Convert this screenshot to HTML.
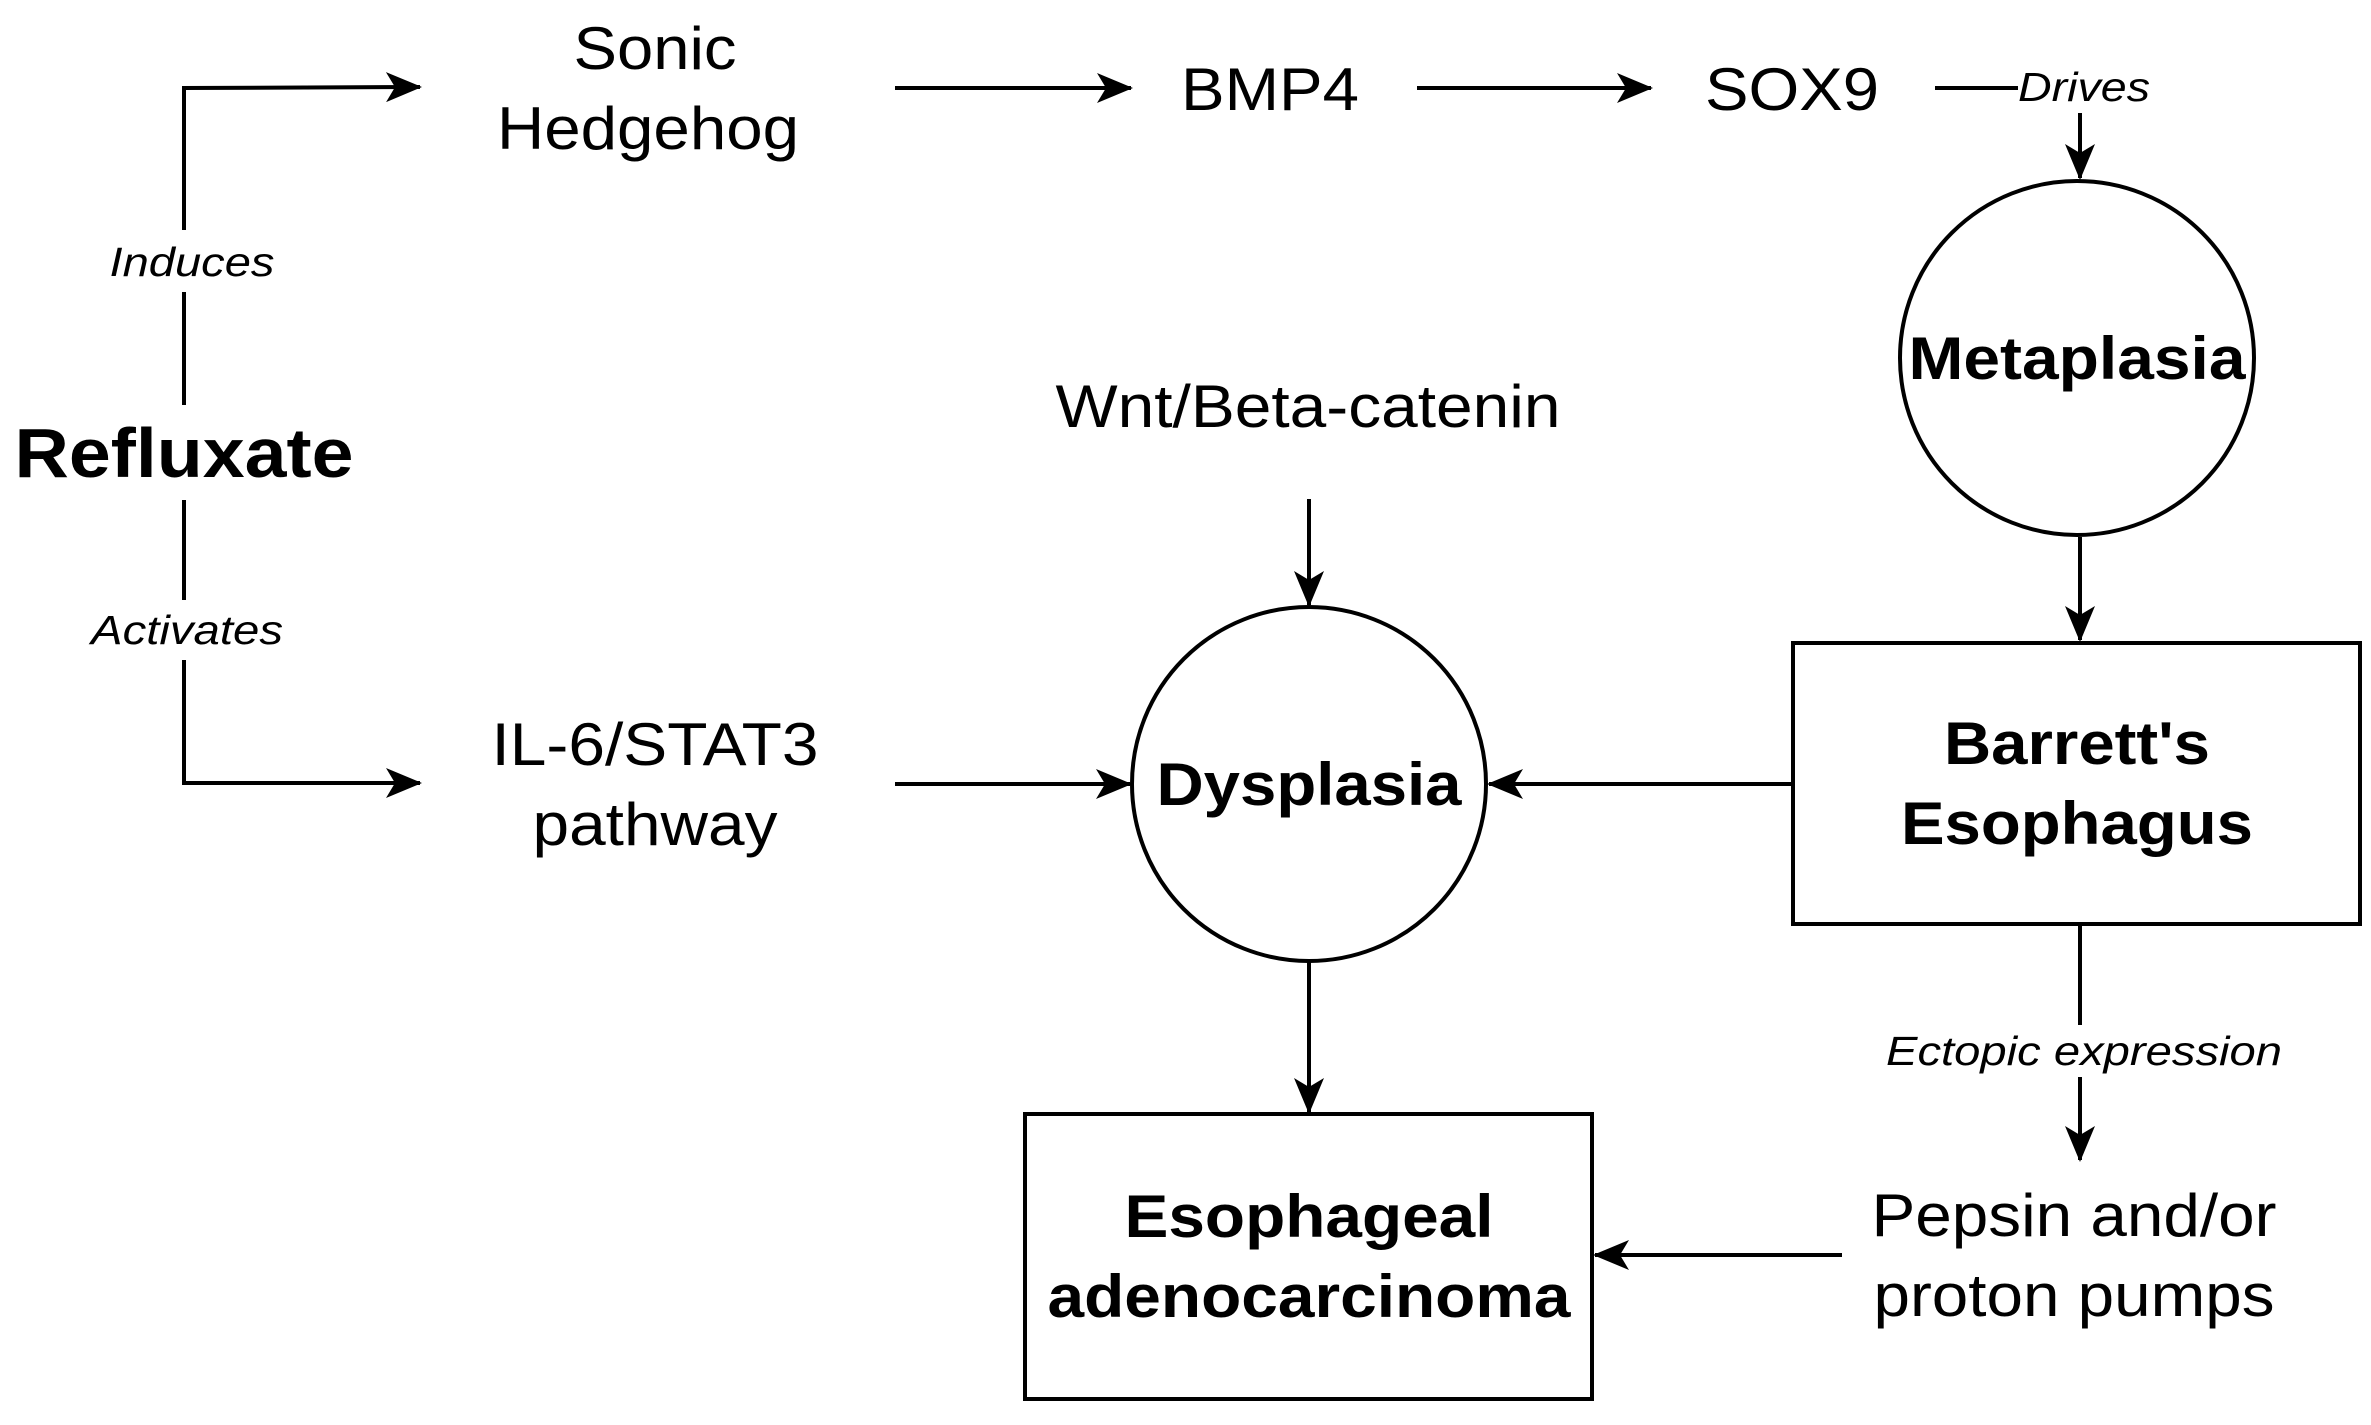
<!DOCTYPE html>
<html><head><meta charset="utf-8"><style>
html,body{margin:0;padding:0;background:#fff;}
svg{display:block;}
text{font-family:"Liberation Sans",Arial,sans-serif;fill:#000;}
.n{font-size:60px;}
.b{font-size:60px;font-weight:bold;}
.i{font-size:41px;font-style:italic;}
</style></head><body>
<svg width="2371" height="1425" viewBox="0 0 2371 1425" xmlns="http://www.w3.org/2000/svg">
<defs>
<marker id="a" markerWidth="36" markerHeight="30" refX="34" refY="15" orient="auto" markerUnits="userSpaceOnUse">
<path d="M0,0 L36,15 L0,30 L9,15 Z" fill="#000"/>
</marker>
</defs>
<g stroke="#000" stroke-width="4" fill="none">
<polyline points="184,230 184,88 420,87" marker-end="url(#a)"/>
<line x1="184" y1="292" x2="184" y2="405"/>
<line x1="184" y1="500" x2="184" y2="600"/>
<polyline points="184,660 184,783 420,783" marker-end="url(#a)"/>
<line x1="895" y1="88" x2="1131" y2="88" marker-end="url(#a)"/>
<line x1="1417" y1="88" x2="1651" y2="88" marker-end="url(#a)"/>
<line x1="1935" y1="88" x2="2018" y2="88"/>
<line x1="2080" y1="113" x2="2080" y2="178" marker-end="url(#a)"/>
<circle cx="2077" cy="358" r="177"/>
<line x1="2080" y1="537" x2="2080" y2="640" marker-end="url(#a)"/>
<rect x="1793" y="643" width="567" height="281"/>
<circle cx="1309" cy="784" r="177"/>
<line x1="1309" y1="499" x2="1309" y2="605" marker-end="url(#a)"/>
<line x1="895" y1="784" x2="1130" y2="784" marker-end="url(#a)"/>
<line x1="1793" y1="784" x2="1489" y2="784" marker-end="url(#a)"/>
<line x1="1309" y1="962" x2="1309" y2="1112" marker-end="url(#a)"/>
<rect x="1025" y="1114" width="567" height="285"/>
<line x1="2080" y1="924" x2="2080" y2="1025"/>
<line x1="2080" y1="1077" x2="2080" y2="1160" marker-end="url(#a)"/>
<line x1="1842" y1="1255" x2="1595" y2="1255" marker-end="url(#a)"/>
</g>
<g lengthAdjust="spacingAndGlyphs">
<text class="b" x="184" y="477" text-anchor="middle" style="font-size:70px" textLength="339" lengthAdjust="spacingAndGlyphs">Refluxate</text>
<text class="i" x="192" y="276" text-anchor="middle" textLength="165" lengthAdjust="spacingAndGlyphs">Induces</text>
<text class="i" x="187" y="644" text-anchor="middle" textLength="192" lengthAdjust="spacingAndGlyphs">Activates</text>
<text class="n" x="655" y="69" text-anchor="middle" textLength="163" lengthAdjust="spacingAndGlyphs">Sonic</text>
<text class="n" x="648" y="149" text-anchor="middle" textLength="302" lengthAdjust="spacingAndGlyphs">Hedgehog</text>
<text class="n" x="1270" y="110" text-anchor="middle" textLength="178" lengthAdjust="spacingAndGlyphs">BMP4</text>
<text class="n" x="1792" y="110" text-anchor="middle" textLength="174" lengthAdjust="spacingAndGlyphs">SOX9</text>
<text class="i" x="2084" y="101" text-anchor="middle" textLength="132" lengthAdjust="spacingAndGlyphs">Drives</text>
<text class="b" x="2077" y="379" text-anchor="middle" textLength="337" lengthAdjust="spacingAndGlyphs">Metaplasia</text>
<text class="n" x="1308" y="427" text-anchor="middle" textLength="505" lengthAdjust="spacingAndGlyphs">Wnt/Beta-catenin</text>
<text class="n" x="655" y="765" text-anchor="middle" textLength="327" lengthAdjust="spacingAndGlyphs">IL-6/STAT3</text>
<text class="n" x="655" y="845" text-anchor="middle" textLength="245" lengthAdjust="spacingAndGlyphs">pathway</text>
<text class="b" x="1309" y="805" text-anchor="middle" textLength="305" lengthAdjust="spacingAndGlyphs">Dysplasia</text>
<text class="b" x="2077" y="764" text-anchor="middle" textLength="266" lengthAdjust="spacingAndGlyphs">Barrett's</text>
<text class="b" x="2077" y="844" text-anchor="middle" textLength="352" lengthAdjust="spacingAndGlyphs">Esophagus</text>
<text class="i" x="2084" y="1065" text-anchor="middle" textLength="396" lengthAdjust="spacingAndGlyphs">Ectopic expression</text>
<text class="n" x="2074" y="1236" text-anchor="middle" textLength="405" lengthAdjust="spacingAndGlyphs">Pepsin and/or</text>
<text class="n" x="2074" y="1316" text-anchor="middle" textLength="401" lengthAdjust="spacingAndGlyphs">proton pumps</text>
<text class="b" x="1309" y="1237" text-anchor="middle" textLength="369" lengthAdjust="spacingAndGlyphs">Esophageal</text>
<text class="b" x="1309" y="1317" text-anchor="middle" textLength="523" lengthAdjust="spacingAndGlyphs">adenocarcinoma</text>
</g>
</svg>
</body></html>
